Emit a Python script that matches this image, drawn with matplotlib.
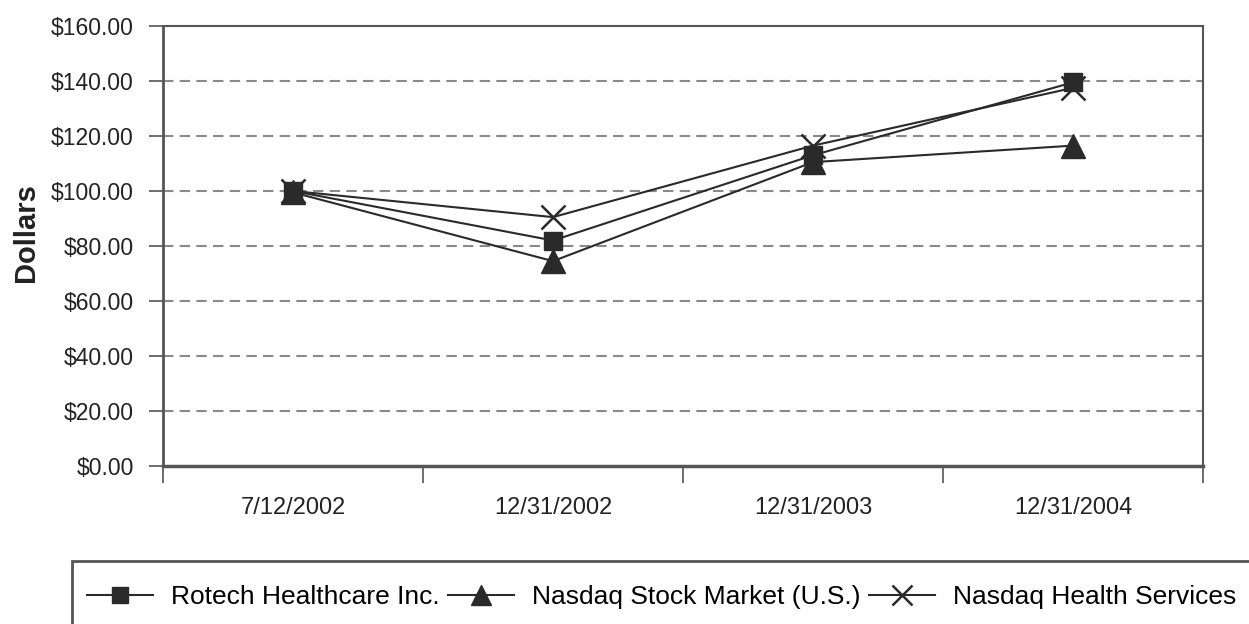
import matplotlib.pyplot as plt
from matplotlib.patches import Rectangle

dates = ["7/12/2002", "12/31/2002", "12/31/2003", "12/31/2004"]
rotech = [100, 82, 113, 139.5]
nasdaq_market = [99.5, 74.5, 110.5, 116.5]
nasdaq_health = [100, 90.5, 116.5, 137.5]
y_ticks = [0, 20, 40, 60, 80, 100, 120, 140, 160]

plt.rcParams['font.family'] = ['Liberation Sans', 'DejaVu Sans']

fig = plt.figure(figsize=(12.49, 6.24), dpi=100)
ax = fig.add_axes([163 / 1249, 1 - 466 / 624, 1040 / 1249, 440 / 624])

ink = '#2a2a2a'
x = list(range(len(dates)))
ax.plot(x, rotech, color=ink, lw=1.5, marker='s', ms=13, mec=ink, mfc=ink,
        label='Rotech Healthcare Inc.', zorder=3)
ax.plot(x, nasdaq_market, color=ink, lw=1.5, marker='^', ms=17, mec=ink, mfc=ink,
        label='Nasdaq Stock Market (U.S.)', zorder=3)
ax.plot(x, nasdaq_health, color=ink, lw=1.5, marker='x', ms=17, mew=1.8, mec=ink,
        label='Nasdaq Health Services', zorder=3)

ax.set_xlim(-0.5, len(dates) - 0.5)
ax.set_ylim(0, 160)
ax.set_yticks(y_ticks)
ax.set_yticklabels([f"${v:.2f}" for v in y_ticks], fontsize=16.5, color='#222222')
for v in y_ticks[1:-1]:
    ax.axhline(v, color='#8a8a8a', lw=1.5, ls=(0, (5, 3)), zorder=1)

ax.set_xticks([i - 0.5 for i in range(len(dates) + 1)])
ax.set_xticklabels([])
ax.set_xticks(x, minor=True)
ax.set_xticklabels(dates, minor=True, fontsize=17, color='#222222')
ax.tick_params(axis='x', which='major', length=12, width=1.2, color='#555555')
ax.tick_params(axis='x', which='minor', length=0, pad=22)
ax.tick_params(axis='y', length=10, width=1.2, color='#555555', pad=11)

for s in ax.spines.values():
    s.set_color('#555555')
    s.set_linewidth(1.5)
ax.spines['left'].set_linewidth(2)
ax.spines['bottom'].set_linewidth(2.5)

fig.text(26 / 1249, 1 - 233 / 624, 'Dollars', rotation=90, fontsize=21,
         fontweight='bold', ha='center', va='center', color='#222222')

fig.patches.append(Rectangle((72 / 1249, -0.1), 1.1, 1 - 561 / 624 + 0.1,
                             transform=fig.transFigure, fill=False,
                             ec='#555555', lw=2))
fig.legend(loc='center left', bbox_to_anchor=(87 / 1249, 1 - 597 / 624),
           ncol=3, frameon=False, fontsize=19, handlelength=2.5,
           handletextpad=0.7, columnspacing=0.3, markerscale=0.85,
           borderaxespad=0, borderpad=0)

fig.savefig('out.png', dpi=100)
